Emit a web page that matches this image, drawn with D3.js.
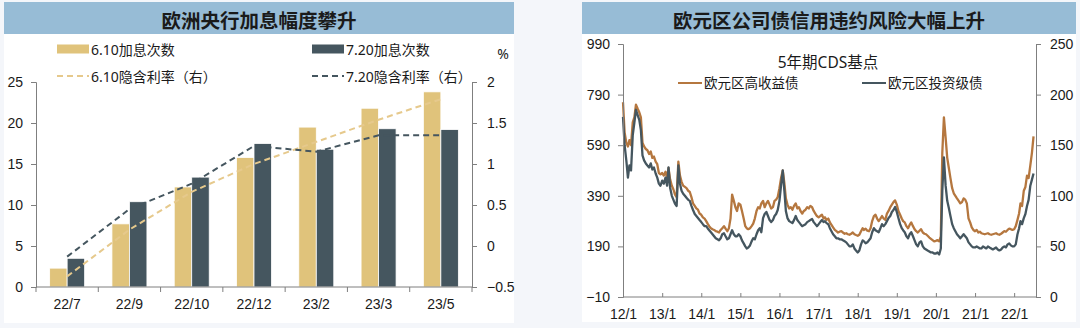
<!DOCTYPE html>
<html>
<head>
<meta charset="utf-8">
<script src="https://cdn.jsdelivr.net/npm/d3@7"></script>
<style>
  body { margin: 0; background: #f4f6fa; }
  svg { display: block; font-family: "Noto Sans", "Noto Sans CJK SC", sans-serif; }
</style>
</head>
<body>
<svg id="chart" width="1080" height="328"></svg>
<script>
// ---------- Left panel: ECB hike expectations ----------
const hikeCategories = ["22/7", "22/9", "22/10", "22/12", "23/2", "23/3", "23/5"];
const hikesJun10 = [2.3, 7.7, 12.2, 15.8, 19.5, 21.8, 23.8];
const hikesJul20 = [3.5, 10.4, 13.4, 17.5, 16.8, 19.3, 19.2];
const rateJun10 = [-0.37, 0.2, 0.66, 1.0, 1.27, 1.54, 1.79];
const rateJul20 = [-0.13, 0.45, 0.76, 1.22, 1.15, 1.35, 1.35];
const hikeTicks = [0, 5, 10, 15, 20, 25];
const rateTicks = [-0.5, 0, 0.5, 1, 1.5, 2];

// ---------- Right panel: euro-area 5y CDS, half-monthly ----------
const cdsStart = "2012-01-01";
const highYield = [
  760,640, 600,585, 610,590, 680,700, 750,735, 720,700, 600,585, 575,570, 555,565, 540,545, 525,515, 480,475,
  480,470, 485,460, 500,455, 430,415, 395,385, 525,470, 445,430, 425,420, 410,405, 385,360, 350,340, 335,320,
  315,305, 300,290, 280,270, 262,258, 255,250, 248,245, 255,262, 270,260, 250,262, 300,395, 370,345, 330,360,
  355,330, 300,270, 262,258, 262,270, 280,300, 330,345, 340,360, 370,345, 360,370, 355,340, 345,370, 375,385,
  420,460, 490,440, 380,355, 340,345, 335,350, 360,340, 345,330, 320,330, 335,345, 340,350, 345,330, 320,310,
  305,310, 315,300, 305,295, 300,285, 275,265, 255,250, 245,248, 250,245, 240,242, 238,236, 240,245, 238,235,
  232,236, 250,262, 255,260, 252,250, 262,290, 310,315, 300,290, 300,310, 300,295, 320,330, 345,355, 365,372,
  355,330, 315,300, 290,285, 270,262, 275,285, 270,258, 250,245, 252,258, 245,240, 238,232, 225,220, 215,210,
  212,215, 210,230, 560,700, 620,540, 500,460, 420,400, 390,380, 370,360, 365,380, 375,360, 300,285, 265,255,
  250,255, 245,248, 242,240, 238,240, 242,238, 236,238, 240,242, 238,236, 240,245, 250,248, 255,260, 258,255,
  258,270, 295,320, 360,350, 410,425, 470,460, 510,560, 625
];
const investGrade = [
  178,150, 135,118, 130,125, 160,172, 185,180, 175,165, 140,135, 132,130, 128,132, 126,128, 122,118, 112,110,
  115,112, 118,110, 128,108, 100,96, 92,90, 130,112, 105,102, 100,98, 96,95, 90,86, 82,80, 78,76,
  74,72, 70,70, 68,66, 64,62, 60,58, 57,56, 58,62, 63,60, 57,58, 62,66, 62,60, 60,62,
  60,56, 53,50, 48,49, 51,55, 58,57, 62,66, 68,64, 78,82, 84,80, 76,74, 76,80, 82,86,
  95,110, 125,105, 85,78, 75,74, 73,76, 80,76, 74,72, 70,71, 72,74, 75,76, 77,74, 72,70,
  72,74, 76,74, 75,73, 72,68, 65,62, 60,58, 58,57, 57,56, 55,54, 52,50, 50,52, 48,46,
  44,46, 52,56, 55,53, 54,56, 58,64, 68,66, 65,64, 68,72, 70,72, 75,78, 80,84, 86,89,
  84,78, 72,68, 66,64, 60,58, 62,64, 60,56, 52,50, 54,55, 50,48, 47,46, 45,44, 44,43,
  43,44, 42,48, 105,138, 110,95, 88,80, 72,68, 65,62, 60,58, 60,62, 60,58, 54,52, 50,49,
  49,50, 49,48, 48,50, 49,48, 50,49, 48,47, 48,49, 47,46, 47,49, 50,49, 52,53, 51,50,
  50,52, 62,68, 75,72, 78,82, 90,96, 110,116, 122
];
const cdsLeftTicks = [-10, 190, 390, 590, 790, 990];
const cdsRightTicks = [0, 50, 100, 150, 200, 250];
const cdsYears = [2012, 2013, 2014, 2015, 2016, 2017, 2018, 2019, 2020, 2021, 2022];

const C = {
  titleBar: "#97bcd6",
  gold: "#e0c37b",
  goldLine: "#e6c98c",
  slate: "#45565f",
  orange: "#b5773f",
  axis: "#7f7f7f",
  text: "#1a1a1a"
};

const svg = d3.select("#chart");

function panel(x, w, h, title) {
  svg.append("rect").attr("x", x).attr("y", 2).attr("width", w).attr("height", h).attr("fill", "#fff");
  svg.append("rect").attr("x", x).attr("y", 2).attr("width", w).attr("height", 32).attr("fill", C.titleBar);
  svg.append("text").attr("x", x + w / 2).attr("y", 19).attr("text-anchor", "middle")
    .attr("dominant-baseline", "central").attr("font-size", 19.5).attr("font-weight", "bold")
    .attr("font-family", "'Noto Sans CJK SC', sans-serif").attr("fill", C.text).text(title);
}

function styleAxis(g) {
  g.select(".domain").attr("stroke", C.axis);
  g.selectAll(".tick line").attr("stroke", C.axis);
  g.selectAll(".tick text").attr("fill", C.text).attr("font-size", 14);
}

// ======== Left panel ========
panel(4, 510, 321, "欧洲央行加息幅度攀升");

const xL = d3.scaleBand().domain(hikeCategories).range([36, 472]);
const yL = d3.scaleLinear().domain([0, 25]).range([287, 82]);
const yR = d3.scaleLinear().domain([-0.5, 2]).range([287, 82]);
const barW = 17.5;

const gL = svg.append("g");

gL.selectAll("rect.b610").data(hikeCategories).join("rect")
  .attr("x", d => xL(d) + xL.bandwidth() / 2 - barW)
  .attr("y", (d, i) => yL(hikesJun10[i]))
  .attr("width", barW)
  .attr("height", (d, i) => yL(0) - yL(hikesJun10[i]))
  .attr("fill", C.gold).attr("stroke", "#fff").attr("stroke-width", 0.8);

gL.selectAll("rect.b720").data(hikeCategories).join("rect")
  .attr("x", d => xL(d) + xL.bandwidth() / 2)
  .attr("y", (d, i) => yL(hikesJul20[i]))
  .attr("width", barW)
  .attr("height", (d, i) => yL(0) - yL(hikesJul20[i]))
  .attr("fill", C.slate).attr("stroke", "#fff").attr("stroke-width", 0.8);

const rateLine = d3.line()
  .x((d, i) => xL(hikeCategories[i]) + xL.bandwidth() / 2)
  .y(d => yR(d));

gL.append("path").datum(rateJun10).attr("d", rateLine).attr("fill", "none")
  .attr("stroke", C.goldLine).attr("stroke-width", 2).attr("stroke-dasharray", "6,4");
gL.append("path").datum(rateJul20).attr("d", rateLine).attr("fill", "none")
  .attr("stroke", C.slate).attr("stroke-width", 2).attr("stroke-dasharray", "6,4");

// axes
const axL = gL.append("g").attr("transform", "translate(36,0)")
  .call(d3.axisLeft(yL).tickValues(hikeTicks).tickSize(5).tickPadding(8));
styleAxis(axL);
const axR = gL.append("g").attr("transform", "translate(472,0)")
  .call(d3.axisRight(yR).tickValues(rateTicks).tickSize(5).tickPadding(10).tickFormat(d3.format("")));
styleAxis(axR);
const axB = gL.append("g").attr("transform", "translate(0,287)")
  .call(d3.axisBottom(xL).tickSize(0).tickPadding(12));
styleAxis(axB);
axB.select(".domain").attr("d", "M36,0H472");
// category boundary ticks
axB.selectAll("line.sep").data(d3.range(hikeCategories.length + 1)).join("line")
  .attr("x1", i => 36 + i * xL.step()).attr("x2", i => 36 + i * xL.step())
  .attr("y1", 0).attr("y2", 5).attr("stroke", C.axis);

gL.append("text").attr("x", 503).attr("y", 53).attr("text-anchor", "middle")
  .attr("dominant-baseline", "central").attr("font-size", 14).attr("fill", C.text).text("%");

// legend
const legL = [
  { x: 57, y: 49, label: "6.10加息次数", type: "bar", color: C.gold },
  { x: 312, y: 49, label: "7.20加息次数", type: "bar", color: C.slate },
  { x: 57, y: 76, label: "6.10隐含利率（右）", type: "dash", color: C.goldLine },
  { x: 312, y: 76, label: "7.20隐含利率（右）", type: "dash", color: C.slate }
];
legL.forEach(l => {
  if (l.type === "bar") {
    svg.append("rect").attr("x", l.x).attr("y", l.y - 4.5).attr("width", 32).attr("height", 9).attr("fill", l.color);
  } else {
    svg.append("line").attr("x1", l.x).attr("x2", l.x + 32).attr("y1", l.y).attr("y2", l.y)
      .attr("stroke", l.color).attr("stroke-width", 2).attr("stroke-dasharray", "6,4");
  }
  svg.append("text").attr("x", l.x + 34).attr("y", l.y).attr("dominant-baseline", "central")
    .attr("font-size", 14).attr("fill", C.text).text(l.label);
});

// ======== Right panel ========
panel(582, 494, 320, "欧元区公司债信用违约风险大幅上升");

const t0 = d3.isoParse(cdsStart);
const dateAt = i => d3.timeDay.offset(d3.timeMonth.offset(t0, Math.floor(i / 2)), (i % 2) * 15);
const xC = d3.scaleTime().domain([new Date(2012, 0, 1), new Date(2022, 6, 24)]).range([623, 1036]);
const yHY = d3.scaleLinear().domain([-10, 990]).range([297, 44]);
const yIG = d3.scaleLinear().domain([0, 250]).range([297, 44]);

const gR = svg.append("g");
gR.append("path").datum(highYield)
  .attr("d", d3.line().x((d, i) => xC(dateAt(i))).y(d => yHY(d)))
  .attr("fill", "none").attr("stroke", C.orange).attr("stroke-width", 2.3).attr("stroke-linejoin", "round");
gR.append("path").datum(investGrade)
  .attr("d", d3.line().x((d, i) => xC(dateAt(i))).y(d => yIG(d)))
  .attr("fill", "none").attr("stroke", C.slate).attr("stroke-width", 2.3).attr("stroke-linejoin", "round");

const axCL = gR.append("g").attr("transform", "translate(623,0)")
  .call(d3.axisLeft(yHY).tickValues(cdsLeftTicks).tickSize(5).tickPadding(8));
styleAxis(axCL);
const axCR = gR.append("g").attr("transform", "translate(1036,0)")
  .call(d3.axisRight(yIG).tickValues(cdsRightTicks).tickSize(5).tickPadding(9));
styleAxis(axCR);
const axCB = gR.append("g").attr("transform", "translate(0,297)")
  .call(d3.axisBottom(xC).tickValues(cdsYears.map(y => new Date(y, 0, 1)))
    .tickSize(-4).tickPadding(12).tickFormat(d => d3.timeFormat("%y")(d) + "/1"));
styleAxis(axCB);
axCB.select(".domain").attr("d", "M623,0H1036");

svg.append("text").attr("x", 828).attr("y", 62).attr("text-anchor", "middle")
  .attr("dominant-baseline", "central").attr("font-size", 15.5).attr("fill", C.text).text("5年期CDS基点");

const legR = [
  { x: 678, label: "欧元区高收益债", color: C.orange },
  { x: 862, label: "欧元区投资级债", color: C.slate }
];
legR.forEach(l => {
  svg.append("line").attr("x1", l.x).attr("x2", l.x + 24).attr("y1", 83).attr("y2", 83)
    .attr("stroke", l.color).attr("stroke-width", 2);
  svg.append("text").attr("x", l.x + 26).attr("y", 83).attr("dominant-baseline", "central")
    .attr("font-size", 13.5).attr("fill", C.text).text(l.label);
});
</script>
</body>
</html>
